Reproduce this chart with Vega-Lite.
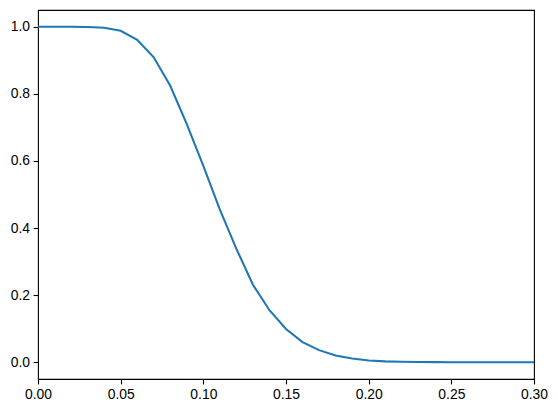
{
  "$schema": "https://vega.github.io/schema/vega-lite/v6.json",
  "width": 496,
  "height": 369,
  "autosize": {"type": "none"},
  "padding": {"left": 38, "top": 10, "right": 24, "bottom": 34},
  "config": {
    "view": {"stroke": "black", "strokeWidth": 1.1},
    "axis": {
      "grid": false,
      "domain": false,
      "tickColor": "black",
      "tickWidth": 1.1,
      "tickSize": 4.9,
      "labelFont": "Liberation Sans",
      "labelFontSize": 13.9,
      "labelColor": "black",
      "labelPadding": 3.5,
      "labelFlush": false,
      "labelOverlap": false,
      "labelBound": false,
      "title": null
    }
  },
  "data": {
    "values": [
      {"x": 0.00, "y": 1.0},
      {"x": 0.01, "y": 1.0},
      {"x": 0.02, "y": 1.0},
      {"x": 0.03, "y": 0.9995},
      {"x": 0.04, "y": 0.997},
      {"x": 0.05, "y": 0.988},
      {"x": 0.06, "y": 0.961},
      {"x": 0.07, "y": 0.909},
      {"x": 0.08, "y": 0.824},
      {"x": 0.09, "y": 0.710},
      {"x": 0.10, "y": 0.585},
      {"x": 0.11, "y": 0.455},
      {"x": 0.12, "y": 0.338},
      {"x": 0.13, "y": 0.231},
      {"x": 0.14, "y": 0.155},
      {"x": 0.15, "y": 0.099},
      {"x": 0.16, "y": 0.060},
      {"x": 0.17, "y": 0.036},
      {"x": 0.18, "y": 0.020},
      {"x": 0.19, "y": 0.011},
      {"x": 0.20, "y": 0.005},
      {"x": 0.21, "y": 0.0025},
      {"x": 0.22, "y": 0.0012},
      {"x": 0.23, "y": 0.0005},
      {"x": 0.24, "y": 0.0002},
      {"x": 0.25, "y": 0.0001},
      {"x": 0.26, "y": 0.0},
      {"x": 0.27, "y": 0.0},
      {"x": 0.28, "y": 0.0},
      {"x": 0.29, "y": 0.0},
      {"x": 0.30, "y": 0.0}
    ]
  },
  "mark": {"type": "line", "color": "#1f77b4", "strokeWidth": 2.08, "clip": true},
  "encoding": {
    "x": {
      "field": "x",
      "type": "quantitative",
      "scale": {"domain": [0, 0.3], "nice": false, "zero": false},
      "axis": {"values": [0, 0.05, 0.1, 0.15, 0.2, 0.25, 0.3], "format": ".2f"}
    },
    "y": {
      "field": "y",
      "type": "quantitative",
      "scale": {"domain": [-0.05, 1.05], "nice": false, "zero": false},
      "axis": {"values": [0, 0.2, 0.4, 0.6, 0.8, 1.0], "format": ".1f"}
    }
  }
}
